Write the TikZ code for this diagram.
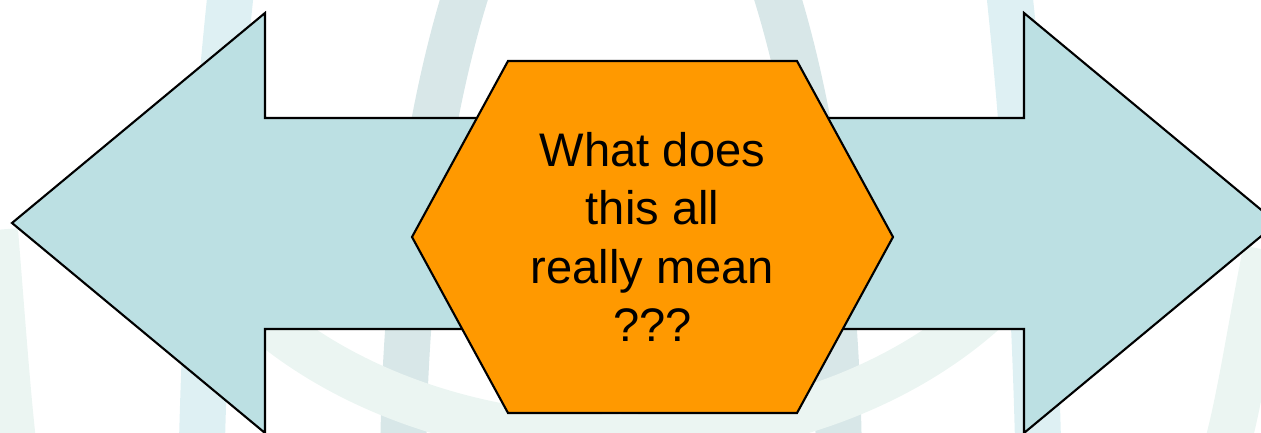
\documentclass[tikz,border=0pt]{standalone}
\usepackage{fontspec}
\setmainfont{Liberation Sans}
\usepackage{tikz}
\usetikzlibrary{calc}
\usepackage{xcolor}
\definecolor{ink}{RGB}{0,0,0}
\definecolor{sky}{RGB}{188,224,227}
\definecolor{amber}{RGB}{255,153,0}
\definecolor{wmcyan}{RGB}{222,240,243}
\definecolor{wmgrey}{RGB}{216,231,232}
\definecolor{wmmint}{RGB}{235,245,242}
\tikzset{
  band/.style={line width=4.6mm,line cap=butt},
  dblarrow/.style={draw=ink,fill=sky,line width=0.6pt,line join=miter},
  hexbox/.style={draw=ink,fill=amber,line width=0.6pt,line join=miter},
  qtext/.style={font=\fontsize{13.4}{16.6}\selectfont,align=center,
    text=ink,inner sep=0pt},
}
\begin{document}
\begin{tikzpicture}[x=0.1mm,y=-0.1mm]
  \useasboundingbox (0,0) rectangle (1261,433);
  \clip (0,0) rectangle (1261,433);
  % faint globe watermark behind
  \draw[band,wmcyan] (620,600) ellipse [x radius=42mm, y radius=161.5mm];
  \draw[band,wmgrey] (621,480) ellipse [x radius=21.8mm, y radius=69.3mm];
  \draw[band,wmmint] (200,250) .. controls (380,500) and (860,500) .. (1040,250);
  \draw[band,wmmint] (-5,230) .. controls (3,330) and (8,400) .. (14,450);
  \draw[band,wmmint] (1266,250) .. controls (1250,330) and (1240,400) .. (1226,450);
  % the double arrow
  \coordinate (tipL) at (12,223);
  \coordinate (tipR) at (1277,223);
  \draw[dblarrow] (tipL) -- (265,13) -- (265,118) -- (1024,118) -- (1024,13)
    -- (tipR) -- (1024,433) -- (1024,329) -- (265,329) -- (265,433) -- cycle;
  % the question in the middle
  \coordinate (hc) at (652.5,237);
  \draw[hexbox] ($(hc)+(-240.5,0)$) -- ($(hc)+(-144.5,-176)$) -- ($(hc)+(144.5,-176)$)
    -- ($(hc)+(240.5,0)$) -- ($(hc)+(144.5,176)$) -- ($(hc)+(-144.5,176)$) -- cycle;
  \node[qtext] (q) at (hc) {What does\\ this all\\ really mean\\ ???};
\end{tikzpicture}
\end{document}
